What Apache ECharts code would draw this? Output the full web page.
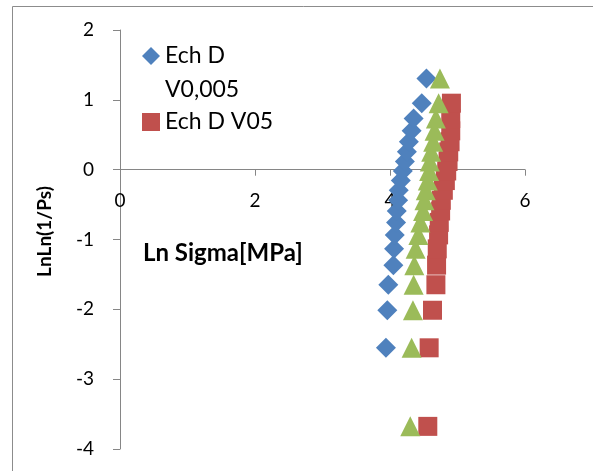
<!DOCTYPE html>
<html>
<head>
<meta charset="utf-8">
<script src="https://cdn.jsdelivr.net/npm/echarts@6/dist/echarts.min.js"></script>
<style>
  html, body { margin: 0; padding: 0; background: #fff; }
  #chart { width: 593px; height: 471px; }
</style>
</head>
<body>
<div id="chart"></div>
<script>
// values
var yBlue  = [-2.551, -2.013, -1.648, -1.367, -1.134, -0.934, -0.755, -0.592, -0.439, -0.295, -0.156, -0.019, 0.117, 0.255, 0.400, 0.556, 0.732, 0.952, 1.305];
var xBlue  = [3.94, 3.96, 3.975, 4.05, 4.06, 4.07, 4.09, 4.10, 4.12, 4.13, 4.16, 4.19, 4.22, 4.25, 4.28, 4.32, 4.35, 4.47, 4.54];

var yRed   = [-3.676, -2.551, -2.013, -1.648, -1.367, -1.134, -0.934, -0.755, -0.592, -0.439, -0.295, -0.156, -0.019, 0.117, 0.255, 0.400, 0.556, 0.732, 0.952];
var xRed   = [4.56, 4.58, 4.63, 4.68, 4.69, 4.70, 4.72, 4.73, 4.75, 4.76, 4.79, 4.82, 4.84, 4.86, 4.87, 4.89, 4.90, 4.90, 4.91];

var yGreen = [-3.676, -2.551, -2.013, -1.648, -1.367, -1.134, -0.934, -0.755, -0.592, -0.439, -0.295, -0.156, -0.019, 0.117, 0.255, 0.400, 0.556, 0.732, 0.952, 1.305];
var xGreen = [4.30, 4.32, 4.34, 4.35, 4.36, 4.38, 4.42, 4.45, 4.49, 4.51, 4.53, 4.56, 4.58, 4.59, 4.61, 4.64, 4.66, 4.68, 4.72, 4.74];

var seriesNames = ['Ech D\nV0,005', 'Ech D V05', 'Ech D V5'];

function pairs(xs, ys) {
    var out = [];
    for (var i = 0; i < xs.length; i++) out.push([xs[i], ys[i]]);
    return out;
}

var chart = echarts.init(document.getElementById('chart'));
var font = 'Lato, "Open Sans", sans-serif';
var axisColor = '#868686';
var legendText = { fontSize: 23, color: '#000', fontFamily: font, lineHeight: 33.5 };

// plot area: y=2 at 30px, y=-4 at 449px -> y=0 sits 279px above the bottom edge
var option = {
    animation: false,
    backgroundColor: '#fff',
    textStyle: { fontFamily: font },
    grid: { left: 120, right: 68, top: 30, bottom: 22, outerBoundsMode: 'none', containLabel: false },
    legend: [{
        data: [seriesNames[0]],
        left: 142,
        top: 5.75,
        padding: 0,
        itemWidth: 18,
        itemHeight: 18,
        // empty first line keeps the icon level with "Ech D"
        formatter: function (name) { return '\n' + name; },
        textStyle: legendText
    }, {
        data: [seriesNames[1]],
        left: 142,
        top: 105.25,
        padding: 0,
        itemWidth: 18,
        itemHeight: 18,
        textStyle: legendText
    }],
    xAxis: {
        type: 'value',
        min: 0, max: 6, interval: 2,
        offset: -279.3,
        axisLine: { onZero: false, lineStyle: { color: axisColor, width: 1 } },
        axisTick: { show: true, length: 6, lineStyle: { color: axisColor } },
        axisLabel: { color: '#000', fontSize: 19, margin: 22, fontFamily: font },
        splitLine: { show: false }
    },
    yAxis: {
        type: 'value',
        min: -4, max: 2, interval: 1,
        name: 'LnLn(1/Ps)',
        nameLocation: 'middle',
        nameGap: 66,
        nameTextStyle: { fontSize: 19, fontWeight: 'bold', color: '#000', fontFamily: font, padding: [0, 0, 0, 16] },
        axisLine: { show: true, onZero: false, lineStyle: { color: axisColor, width: 1 } },
        axisTick: { show: true, length: 7, lineStyle: { color: axisColor } },
        axisLabel: { color: '#000', fontSize: 19, margin: 26, fontFamily: font },
        splitLine: { show: false }
    },
    graphic: [
        {
            type: 'rect',
            shape: { x: 12.5, y: 6.5, width: 700, height: 600 },
            style: { fill: 'none', stroke: '#8c8c8c', lineWidth: 1 },
            silent: true
        },
        {
            type: 'text',
            left: 143,
            top: 241,
            style: { text: 'Ln Sigma[MPa]', fontSize: 24, fontWeight: 'bold', fill: '#000', fontFamily: font }
        }
    ],
    series: [
        {
            name: seriesNames[0],
            type: 'scatter',
            symbol: 'diamond',
            symbolSize: 20,
            itemStyle: { color: '#4F81BD', opacity: 1 },
            data: pairs(xBlue, yBlue),
            z: 3
        },
        {
            name: seriesNames[1],
            type: 'scatter',
            symbol: 'rect',
            symbolSize: 19,
            itemStyle: { color: '#C0504D', opacity: 1 },
            data: pairs(xRed, yRed),
            z: 4
        },
        {
            name: seriesNames[2],
            type: 'scatter',
            symbol: 'triangle',
            symbolSize: 20,
            itemStyle: { color: '#9BBB59', opacity: 1 },
            data: pairs(xGreen, yGreen),
            z: 5
        }
    ]
};

chart.setOption(option);
window.addEventListener('resize', function () { chart.resize(); });
</script>
</body>
</html>
